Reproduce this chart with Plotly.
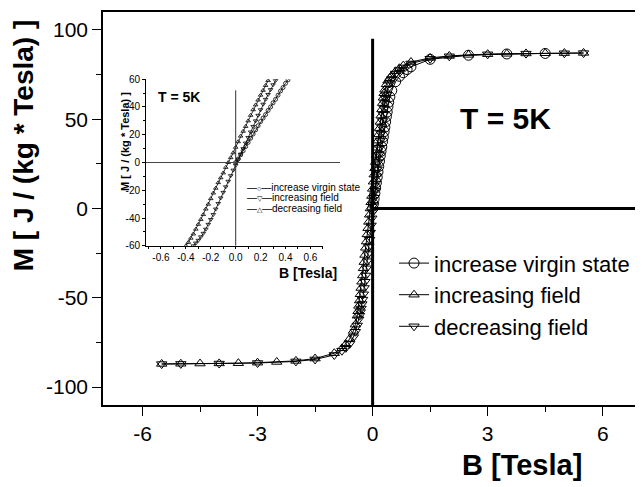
import plotly.graph_objects as go

# ---------------- data ----------------
# virgin curve (circles)
b_virgin = [0.00, 0.02, 0.04, 0.06, 0.08, 0.10, 0.12, 0.14, 0.16, 0.18, 0.20, 0.22,
            0.24, 0.26, 0.28, 0.30, 0.32, 0.34, 0.36, 0.38, 0.40, 0.42, 0.45, 0.50,
            0.60, 0.70, 0.80, 0.90, 1.00, 1.50, 2.50, 3.50, 4.50]
m_virgin = [0.0, 2.5, 5.5, 8.5, 11.5, 14.5, 17.5, 20.5, 23.5, 26.5, 29.5, 32.0,
            34.5, 37.5, 40.0, 43.0, 45.5, 48.5, 51.5, 54.0, 57.0, 59.5, 62.5, 66.0,
            71.0, 74.0, 76.0, 77.8, 79.3, 83.5, 85.8, 86.5, 86.8]

# upper branch, field swept from +5.5 T down to -5.5 T (triangle up)
b_upper = [5.5, 5.0, 4.5, 4.0, 3.5, 3.0, 2.5, 2.0, 1.5, 1.0, 0.8, 0.7, 0.6, 0.5, 0.45,
           0.40, 0.36, 0.32, 0.30, 0.28, 0.26, 0.24, 0.22, 0.20, 0.18, 0.16, 0.14,
           0.12, 0.10, 0.08, 0.06, 0.04, 0.02, 0.00, -0.02, -0.04, -0.06, -0.08,
           -0.10, -0.12, -0.14, -0.16, -0.18, -0.20, -0.22, -0.24, -0.26, -0.28,
           -0.30, -0.32, -0.34, -0.36, -0.38, -0.40, -0.45, -0.50, -0.60, -0.70,
           -0.80, -1.0, -1.5, -2.0, -2.5, -3.0, -3.5, -4.0, -4.5, -5.0, -5.5]
m_upper = [87.1, 87.0, 86.9, 86.8, 86.6, 86.4, 86.0, 85.4, 84.3, 82.0, 80.0, 78.5, 76.8, 74.5, 73.0,
           71.5, 69.5, 66.5, 64.5, 62.0, 59.0, 55.5, 52.0, 48.5, 45.0, 41.5, 38.0,
           34.0, 30.0, 26.0, 22.5, 19.0, 15.0, 11.0, 7.0, 3.5, 0.0, -3.5,
           -7.5, -11.0, -14.5, -18.5, -22.0, -26.0, -30.0, -33.5, -37.5, -41.0,
           -44.5, -48.0, -51.5, -54.5, -57.5, -60.0, -65.0, -68.5, -73.0, -76.0,
           -78.3, -81.0, -84.0, -85.3, -85.9, -86.3, -86.6, -86.7, -86.8, -86.9, -87.0]

# lower branch, field swept from -5.5 T up to +5.5 T (triangle down)
b_lower = [-5.5, -5.0, -4.0, -3.0, -2.0, -1.5, -1.0, -0.8, -0.7, -0.6, -0.5, -0.45,
           -0.40, -0.36, -0.34, -0.32, -0.30, -0.28, -0.26, -0.24, -0.22, -0.20,
           -0.18, -0.16, -0.14, -0.12, -0.10, -0.08, -0.06, -0.04, -0.02, 0.00,
           0.02, 0.04, 0.06, 0.08, 0.10, 0.12, 0.14, 0.16, 0.18, 0.20, 0.22, 0.24,
           0.26, 0.28, 0.30, 0.32, 0.34, 0.36, 0.40, 0.45, 0.50, 0.6, 0.7, 0.8,
           1.0, 1.5, 2.0, 3.0, 4.0, 5.0, 5.5]
m_lower = [-87.1, -87.0, -86.8, -86.5, -85.6, -84.5, -82.0, -79.6, -78.0, -75.8, -72.0, -69.0,
           -65.5, -62.0, -60.0, -58.0, -56.0, -53.5, -51.0, -48.0, -44.5, -41.0,
           -37.5, -33.5, -29.5, -25.5, -21.5, -17.5, -13.5, -9.5, -5.5, -2.0,
           2.0, 6.0, 10.0, 14.0, 18.0, 22.0, 26.0, 30.0, 34.0, 38.0, 42.0, 45.5,
           49.0, 52.5, 56.0, 59.0, 61.5, 63.5, 67.0, 70.0, 72.5, 75.5, 77.5, 79.0,
           81.2, 83.8, 85.2, 86.3, 86.7, 86.9, 87.0]

# legend labels (main and inset use different marker assignments)
main_names = ["increase virgin state", "increasing field", "decreasing field"]
inset_names = ["increase virgin state", "increasing field", "decreasing field"]
inset_symbols = ["○", "▽", "△"]

# tick labels
x_ticks = [-6, -3, 0, 3, 6]
x_tick_text = ["-6", "-3", "0", "3", "6"]
x_minor = [-4.5, -1.5, 1.5, 4.5]
y_ticks = [-100, -50, 0, 50, 100]
y_tick_text = ["-100", "-50", "0", "50", "100"]
y_minor = [-75, -25, 25, 75]
x_range = [-7.03, 6.92]
y_range = [-110, 110]

ix_ticks = [-0.6, -0.4, -0.2, 0.0, 0.2, 0.4, 0.6]
ix_tick_text = ["-0.6", "-0.4", "-0.2", "0.0", "0.2", "0.4", "0.6"]
ix_minor = [-0.7, -0.5, -0.3, -0.1, 0.1, 0.3, 0.5, 0.7]
iy_ticks = [-60, -40, -20, 0, 20, 40, 60]
iy_tick_text = ["-60", "-40", "-20", "0", "20", "40", "60"]
iy_minor = [-50, -30, -10, 10, 30, 50]
ix_range = [-0.72, 0.70]
iy_range = [-60, 60]

zero_line_top = 95       # top of thick vertical line at B = 0 (main)
inset_vline_top = 52     # top of thin vertical line at B = 0 (inset)

FONT = "Liberation Sans, Arial, Helvetica, sans-serif"
NARROW = "Liberation Sans Narrow, Arial Narrow, Liberation Sans, Arial, sans-serif"

fig = go.Figure()

# ---------------- main plot ----------------
main_series = [
    (b_virgin, m_virgin, "circle-open", 10, main_names[0]),
    (b_upper, m_upper, "triangle-up-open", 9, main_names[1]),
    (b_lower, m_lower, "triangle-down-open", 9, main_names[2]),
]
for bx, my, sym, sz, name in main_series:
    fig.add_trace(go.Scatter(
        x=bx, y=my, mode="lines+markers", name=name,
        line=dict(color="black", width=1),
        marker=dict(symbol=sym, size=sz, color="black", line=dict(width=1, color="black")),
        xaxis="x", yaxis="y", showlegend=True, legend="legend",
    ))

# ---------------- inset ----------------
inset_series = [
    (b_virgin, m_virgin, "circle-open"),
    (b_lower, m_lower, "triangle-down-open"),
    (b_upper, m_upper, "triangle-up-open"),
]
for bx, my, sym in inset_series:
    fig.add_trace(go.Scatter(
        x=bx, y=my, mode="lines+markers",
        line=dict(color="black", width=0.8),
        marker=dict(symbol=sym, size=4, color="black", line=dict(width=0.8, color="black")),
        xaxis="x2", yaxis="y2", showlegend=False,
    ))

axis_common = dict(showgrid=False, zeroline=False, showline=True, linecolor="black",
                   ticks="outside", tickcolor="black", automargin=False)

# the page body adds an 8px margin; figure is sized so the plot area sits
# at x 103..638, y 12..405 in the 643x487 window
fig.update_layout(
    width=635, height=479,
    margin=dict(l=95, r=5, t=4, b=82),
    paper_bgcolor="white", plot_bgcolor="white",
    font=dict(family=FONT, color="black"),
    xaxis=dict(axis_common, domain=[0, 1], range=x_range, mirror=True, linewidth=1.5,
               tickmode="array", tickvals=x_ticks, ticktext=x_tick_text,
               ticklen=9, tickwidth=1.3, tickfont=dict(size=21),
               minor=dict(tickmode="array", tickvals=x_minor, ticklen=5, tickwidth=1.2,
                          ticks="outside", tickcolor="black")),
    yaxis=dict(axis_common, domain=[0, 1], range=y_range, mirror=True, linewidth=1.5,
               tickmode="array", tickvals=y_ticks, ticktext=y_tick_text,
               ticklen=9, tickwidth=1.3, tickfont=dict(size=21),
               minor=dict(tickmode="array", tickvals=y_minor, ticklen=5, tickwidth=1.2,
                          ticks="outside", tickcolor="black")),
    xaxis2=dict(axis_common, domain=[0.0804, 0.411], anchor="y2", range=ix_range,
                linewidth=1, tickmode="array", tickvals=ix_ticks, ticktext=ix_tick_text,
                ticklen=2, tickwidth=1, tickfont=dict(size=10, family=NARROW),
                minor=dict(tickmode="array", tickvals=ix_minor, ticklen=2, tickwidth=0.8,
                           ticks="outside", tickcolor="black")),
    yaxis2=dict(axis_common, domain=[0.405, 0.829], anchor="x2", range=iy_range,
                linewidth=1, tickmode="array", tickvals=iy_ticks, ticktext=iy_tick_text,
                ticklen=3, tickwidth=1, tickfont=dict(size=10, family=NARROW),
                minor=dict(tickmode="array", tickvals=iy_minor, ticklen=2, tickwidth=0.8,
                           ticks="outside", tickcolor="black")),
    legend=dict(x=0.544, y=0.414, xanchor="left", yanchor="top",
                font=dict(size=22, family=FONT, color="black"),
                bgcolor="rgba(0,0,0,0)", borderwidth=0, tracegroupgap=0),
)

# reference lines
fig.add_shape(type="line", xref="x", yref="y", x0=0, x1=0, y0=y_range[0], y1=zero_line_top,
              line=dict(color="black", width=3))
fig.add_shape(type="line", xref="x", yref="y", x0=0, x1=x_range[1], y0=0, y1=0,
              line=dict(color="black", width=3))
fig.add_shape(type="line", xref="x2", yref="y2", x0=0, x1=0, y0=iy_range[0], y1=inset_vline_top,
              line=dict(color="#333333", width=1))
fig.add_shape(type="line", xref="paper", yref="y2", x0=0.0804, x1=0.443, y0=0, y1=0,
              line=dict(color="#444444", width=1))

# text
ann = [
    dict(text="<b>M [ J / (kg * Tesla) ]</b>", x=-0.1495, y=0.661, textangle=-90,
         font=dict(size=28)),
    dict(text="<b>B [Tesla]</b>", x=0.783, y=-0.152, font=dict(size=29)),
    dict(text="<b>T = 5K</b>", x=0.753, y=0.7285, font=dict(size=30)),
    dict(text="<b>M [ J / (kg * Tesla) ]</b>", x=0.0411, y=0.672, textangle=-90,
         font=dict(size=11, family=NARROW)),
    dict(text="<b>B [Tesla]</b>", x=0.383, y=0.337, font=dict(size=14, family=NARROW)),
    dict(text="<b>T = 5K</b>", x=0.142, y=0.783, font=dict(size=14)),
]
for a in ann:
    a.update(xref="paper", yref="paper", showarrow=False, xanchor="center", yanchor="middle")
    a["font"].setdefault("family", FONT)
    a["font"]["color"] = "black"
    fig.add_annotation(**a)

legend_rows_y = [0.5543, 0.5276, 0.4996]
for sym, name, yy in zip(inset_symbols, inset_names, legend_rows_y):
    fig.add_annotation(
        text="—<span style='font-size:7px'>" + sym + "</span>—" + name,
        x=0.2654, y=yy, xref="paper", yref="paper", showarrow=False,
        xanchor="left", yanchor="middle",
        font=dict(size=10, family=NARROW, color="black"),
    )

fig.write_html("out.html")
